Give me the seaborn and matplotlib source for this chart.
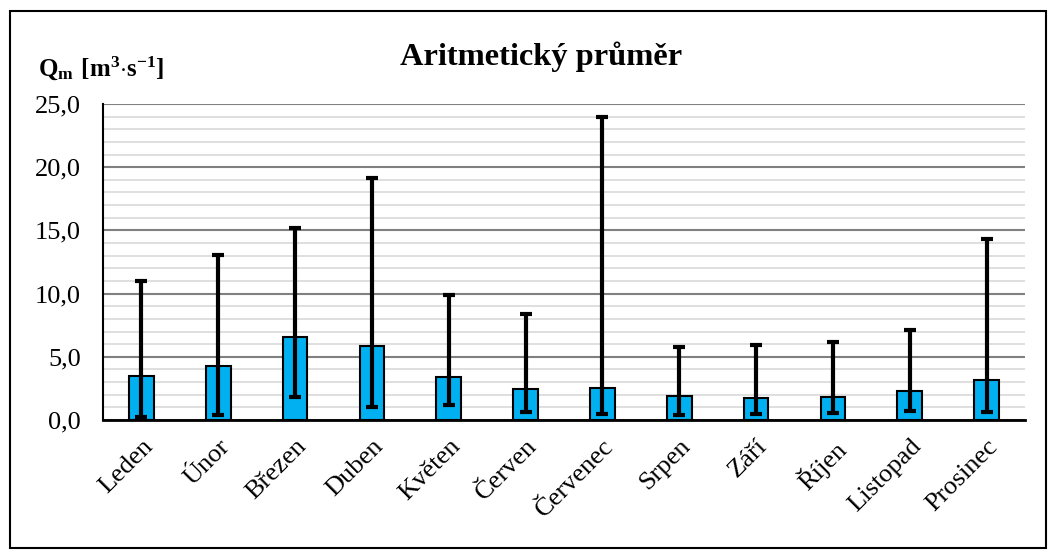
import numpy as np
import pandas as pd
import matplotlib
matplotlib.use('Agg')
import matplotlib.pyplot as plt
import seaborn as sns
from matplotlib.ticker import FuncFormatter, MultipleLocator
from matplotlib.patches import Rectangle

# =========================
# DATA
# =========================

months = ['Leden', 'Únor', 'Březen', 'Duben', 'Květen', 'Červen',
          'Červenec', 'Srpen', 'Září', 'Říjen', 'Listopad', 'Prosinec']
q_mean = [3.48, 4.30, 6.57, 5.83, 3.43, 2.48, 2.56, 1.87, 1.74, 1.82, 2.27, 3.16]
q_min = [0.20, 0.37, 1.85, 1.05, 1.21, 0.60, 0.50, 0.40, 0.45, 0.53, 0.71, 0.60]
q_max = [11.0, 13.08, 15.19, 19.15, 9.89, 8.41, 23.97, 5.77, 5.96, 6.17, 7.15, 14.30]

df = pd.DataFrame({'mesic': months, 'prumer': q_mean, 'min': q_min, 'max': q_max})

# =========================
# STYLE
# =========================

sns.set_style('white')
plt.rcParams['font.family'] = ['Liberation Serif', 'DejaVu Serif']
plt.rcParams['mathtext.fontset'] = 'custom'
plt.rcParams['mathtext.rm'] = 'Liberation Serif'
plt.rcParams['mathtext.bf'] = 'Liberation Serif:bold'
plt.rcParams['text.color'] = 'black'
plt.rcParams['xtick.color'] = 'black'
plt.rcParams['ytick.color'] = 'black'

fig = plt.figure(figsize=(10.56, 5.58), dpi=100)
ax = fig.add_axes([103 / 1056, 1 - 420 / 558, 922 / 1056, 316 / 558])

# =========================
# BARS + ERROR BARS
# =========================

sns.barplot(data=df, x='mesic', y='prumer', color='#00B0F0', width=0.32,
            edgecolor='black', linewidth=1.5, saturation=1, ax=ax, zorder=3)

x = np.arange(len(months))
yerr = [df['prumer'] - df['min'], df['max'] - df['prumer']]
ax.errorbar(x, df['prumer'], yerr=yerr, fmt='none', ecolor='black',
            elinewidth=3, capsize=4.5, capthick=3, zorder=4)

# =========================
# AXES
# =========================

ax.set_ylim(0, 25)
ax.set_xlim(-0.5, len(months) - 0.5)
ax.yaxis.set_major_locator(MultipleLocator(5))
ax.yaxis.set_minor_locator(MultipleLocator(1))
ax.yaxis.set_major_formatter(FuncFormatter(lambda v, p: f'{v:.1f}'.replace('.', ',')))
ax.grid(which='major', axis='y', color='#808080', linewidth=1.5, zorder=0)
ax.grid(which='minor', axis='y', color='#D9D9D9', linewidth=1.2, zorder=0)
ax.set_axisbelow(True)

for s in ['top', 'right']:
    ax.spines[s].set_visible(False)
ax.spines['left'].set_color('black')
ax.spines['left'].set_linewidth(1.5)
ax.spines['bottom'].set_color('black')
ax.spines['bottom'].set_linewidth(2)

ax.tick_params(axis='y', which='both', length=0, labelsize=19, pad=16)
ax.tick_params(axis='x', length=0, labelsize=19, pad=11)
plt.setp(ax.get_xticklabels(), rotation=45, ha='right', rotation_mode='anchor')
ax.set_xlabel('')
ax.set_ylabel('')

# =========================
# TEXTS + BORDER
# =========================

fig.text(541 / 1056, 1 - 57 / 558, 'Aritmetický průměr', ha='center', va='center',
         fontsize=23.3, fontweight='bold')
fig.text(38 / 1056, 1 - 68 / 558, r'$\mathbf{Q_m\ [m^3{\cdot}s^{-1}]}$',
         ha='left', va='center', fontsize=18)

fig.patches.append(Rectangle((10 / 1056, 10 / 558), 1036 / 1056, 537 / 558,
                             transform=fig.transFigure, fill=False,
                             edgecolor='black', linewidth=1.5))

plt.savefig('out.png', dpi=100)
